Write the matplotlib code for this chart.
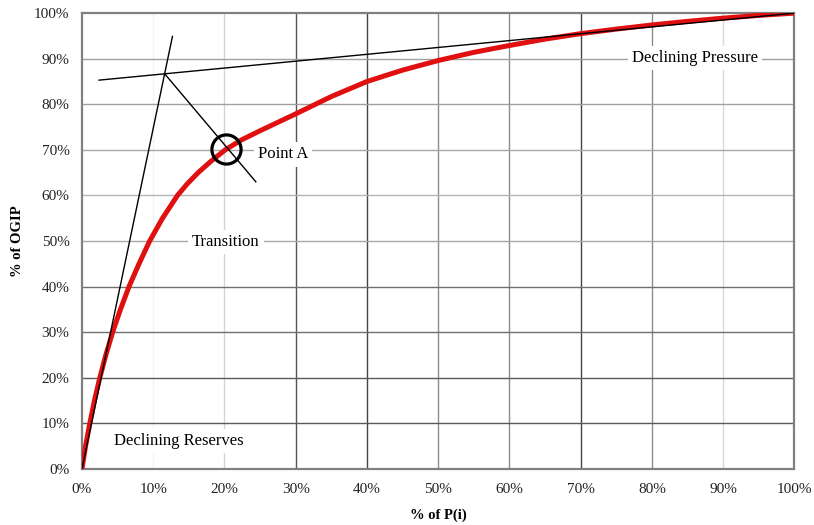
import matplotlib.pyplot as plt
from matplotlib.ticker import FuncFormatter

# 曲线数据：% of P(i) 与 % of OGIP
P_PCT = [0, 0.5, 1.1, 1.75, 2.5, 3.35, 4.3, 5.4, 6.6, 8.0, 9.5, 11.3, 13.4,
         14.75, 16.3, 18.1, 20.1, 22.4, 25, 30, 35, 40, 45, 50, 55, 60, 65,
         70, 75, 80, 85, 90, 95, 100]
OGIP_PCT = [0, 5, 10, 15, 20, 25, 30, 35, 40, 45, 50, 55, 60,
            62.5, 65, 67.5, 70, 72.2, 74.2, 77.9, 81.7, 85.0, 87.5, 89.6,
            91.4, 92.9, 94.3, 95.5, 96.5, 97.4, 98.2, 98.9, 99.5, 100]

# 两条切线与角平分线
STEEP_X = [0, 12.7]
STEEP_Y = [0, 94.9]
FLAT_X = [2.4, 100]
FLAT_Y = [85.3, 100]
BISECT_X = [11.6, 24.4]
BISECT_Y = [86.7, 63.0]
POINT_A = (20.2, 70.2)

TICKS = [0, 10, 20, 30, 40, 50, 60, 70, 80, 90, 100]

# 网格线颜色（原图中深浅不一）
VGRID_COLORS = {10: "#f2f2f2", 20: "#d4d4d4", 30: "#555555", 40: "#444444",
                50: "#8c8c8c", 60: "#8c8c8c", 70: "#444444", 80: "#8c8c8c",
                90: "#dadada"}
HGRID_COLORS = {10: "#5a5a5a", 20: "#5a5a5a", 30: "#707070", 40: "#707070",
                50: "#a8a8a8", 60: "#b4b4b4", 70: "#a8a8a8", 80: "#a0a0a0",
                90: "#a0a0a0"}

plt.rcParams["font.family"] = ["Liberation Serif", "DejaVu Serif"]

fig = plt.figure(figsize=(8.14, 5.25), dpi=100)
ax = fig.add_axes([0.1007, 0.1067, 0.8753, 0.8683])

for v, c in VGRID_COLORS.items():
    ax.axvline(v, color=c, lw=1.0, zorder=1)
for h, c in HGRID_COLORS.items():
    ax.axhline(h, color=c, lw=1.0, zorder=1)

ax.plot(P_PCT, OGIP_PCT, color="#e01010", lw=3.6, zorder=3,
        solid_joinstyle="round", solid_capstyle="round")

ax.plot(STEEP_X, STEEP_Y, color="black", lw=1.0, zorder=4)
ax.plot(FLAT_X, FLAT_Y, color="black", lw=1.0, zorder=4)
ax.plot(BISECT_X, BISECT_Y, color="black", lw=1.0, zorder=4)
ax.plot([POINT_A[0]], [POINT_A[1]], marker="o", markersize=21,
        markerfacecolor="none", markeredgecolor="black", markeredgewidth=2.3,
        zorder=5)

box = dict(facecolor="white", edgecolor="none", pad=3)
ax.text(24.7, 69.0, "Point A", fontsize=12, ha="left", va="center",
        bbox=box, zorder=2)
ax.text(20.2, 49.8, "Transition", fontsize=12, ha="center", va="center",
        bbox=box, zorder=2)
ax.text(86.0, 90.1, "Declining Pressure", fontsize=12, ha="center",
        va="center", bbox=box, zorder=2)
ax.text(13.6, 6.1, "Declining Reserves", fontsize=12, ha="center",
        va="center", bbox=box, zorder=2)

ax.set_xlim(0, 100)
ax.set_ylim(0, 100)
ax.set_xticks(TICKS)
ax.set_yticks(TICKS)
pct = FuncFormatter(lambda v, _: f"{v:.0f}%")
ax.xaxis.set_major_formatter(pct)
ax.yaxis.set_major_formatter(pct)
ax.tick_params(axis="x", length=0, pad=10, labelsize=11, colors="#222222")
ax.tick_params(axis="y", length=0, pad=9, labelsize=11, colors="#222222")

for side in ax.spines.values():
    side.set_color("#808080")
    side.set_linewidth(1.6)

ax.set_xlabel("% of P(i)", fontsize=10.5, fontweight="bold", labelpad=9)
ax.set_ylabel("% of OGIP", fontsize=10.5, fontweight="bold", labelpad=7)

fig.savefig("out.png", dpi=100)
